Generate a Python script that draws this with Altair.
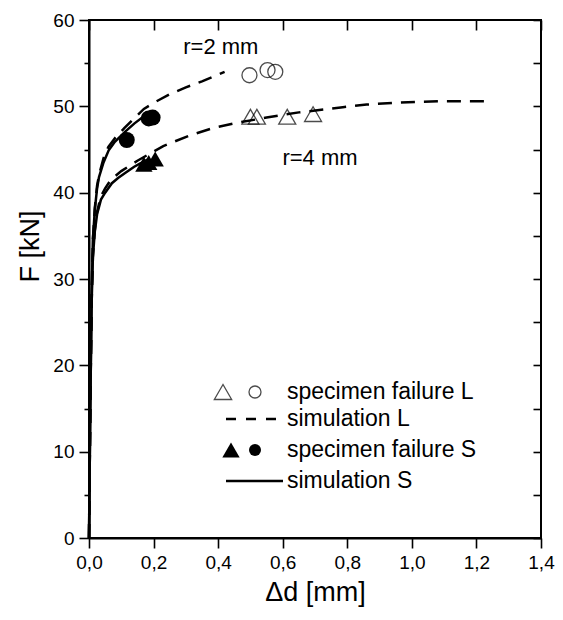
import altair as alt
import pandas as pd

# ---------------- data ----------------
# simulation curves (d in mm, F in kN)
r2L_d = [0, 0.004, 0.008, 0.012, 0.018, 0.025, 0.032, 0.045, 0.06, 0.08, 0.11, 0.14, 0.17, 0.2, 0.25, 0.3, 0.35, 0.42]
r2L_F = [0, 15, 28, 34.5, 38.2, 40.8, 42.2, 44.0, 45.3, 46.3, 47.5, 48.6, 49.7, 50.4, 51.4, 52.2, 52.9, 54.0]

r2S_d = [0, 0.004, 0.008, 0.012, 0.018, 0.025, 0.031, 0.045, 0.061, 0.08, 0.113, 0.14, 0.175, 0.195]
r2S_F = [0, 15, 28, 34.5, 38.0, 40.5, 41.8, 43.5, 44.9, 45.9, 47.1, 48.0, 49.0, 49.4]

r4L_d = [0, 0.004, 0.008, 0.012, 0.018, 0.025, 0.037, 0.05, 0.068, 0.1, 0.15, 0.23, 0.31, 0.385, 0.46, 0.55,
         0.65, 0.786, 0.86, 0.94, 1.01, 1.09, 1.16, 1.25]
r4L_F = [0, 15, 27, 32.5, 35.7, 37.8, 39.6, 40.5, 41.5, 42.5, 43.7, 45.4, 46.6, 47.5, 48.1, 48.7,
         49.3, 49.9, 50.2, 50.4, 50.5, 50.6, 50.6, 50.6]

r4S_d = [0, 0.004, 0.008, 0.012, 0.018, 0.025, 0.037, 0.05, 0.071, 0.09, 0.113, 0.14, 0.159, 0.185]
r4S_F = [0, 15, 27, 32.5, 35.5, 37.5, 39.2, 40.0, 41.1, 41.7, 42.3, 43.0, 43.4, 43.9]

# specimen failures
openTri_d = [0.50, 0.52, 0.614, 0.694]
openTri_F = [48.8, 48.8, 48.8, 49.1]
openCirc_d = [0.497, 0.553, 0.577]
openCirc_F = [53.6, 54.2, 54.0]
fillCirc_d = [0.117, 0.185, 0.197]
fillCirc_F = [46.1, 48.6, 48.7]
fillTri_d = [0.170, 0.185, 0.205]
fillTri_F = [43.3, 43.5, 43.9]

# annotations
ann_text = ["r=2 mm", "r=4 mm"]
ann_d = [0.292, 0.599]
ann_F = [56.9, 44.0]

# axes
x_major = [0.0, 0.2, 0.4, 0.6, 0.8, 1.0, 1.2, 1.4]
y_major = [0, 10, 20, 30, 40, 50, 60]
y_minor = [5, 15, 25, 35, 45, 55]
y_all = [0, 5, 10, 15, 20, 25, 30, 35, 40, 45, 50, 55, 60]

legend_labels = ["specimen failure L", "simulation L", "specimen failure S", "simulation S"]

# ---------------- build tables ----------------
def curve_df(name, ds, Fs):
    return pd.DataFrame({"curve": name, "d": ds, "F": Fs})

dashed = pd.concat([curve_df("r2L", r2L_d, r2L_F), curve_df("r4L", r4L_d, r4L_F)])
solid = pd.concat([curve_df("r2S", r2S_d, r2S_F), curve_df("r4S", r4S_d, r4S_F)])
oT = pd.DataFrame({"d": openTri_d, "F": openTri_F})
oC = pd.DataFrame({"d": openCirc_d, "F": openCirc_F})
fC = pd.DataFrame({"d": fillCirc_d, "F": fillCirc_F})
fT = pd.DataFrame({"d": fillTri_d, "F": fillTri_F})
ann = pd.DataFrame({"d": ann_d, "F": ann_F, "t": ann_text})
one = pd.DataFrame({"k": [0]})

W, H = 452, 518
FONT = "Liberation Sans"
xs = alt.Scale(domain=[0, 1.4], nice=False, zero=False)
ys = alt.Scale(domain=[0, 60], nice=False)
lblx = "replace(format(datum.value, '.1f'), '.', ',')"

X_none = alt.X("d:Q", scale=xs, axis=None)
Y_none = alt.Y("F:Q", scale=ys, axis=None)

# curves (carry bottom & left main axes)
dashed_layer = alt.Chart(dashed).mark_line(color="black", strokeWidth=2.5, strokeDash=[14, 9]).encode(
    x=alt.X("d:Q", scale=xs, axis=alt.Axis(orient="bottom", values=x_major, labelExpr=lblx,
                                            title="Δd [mm]", tickSize=10, labelPadding=5, labelFlush=False,
                                            labelFontSize=19, titleFontSize=27, titleFontWeight="normal",
                                            titleX=W / 2, titleY=54, titleBaseline="middle")),
    y=alt.Y("F:Q", scale=ys, axis=alt.Axis(orient="left", values=y_major, format="d",
                                            title="F [kN]", tickSize=10, labelPadding=5, labelFlush=False,
                                            labelFontSize=19, titleFontSize=27, titleFontWeight="normal",
                                            titleX=-59, titleY=226, titleBaseline="middle")),
    detail="curve:N",
)
solid_layer = alt.Chart(solid).mark_line(color="black", strokeWidth=2.5).encode(
    x=X_none, y=Y_none, detail="curve:N")

# markers (carry top & right inward axes)
oT_layer = alt.Chart(oT).mark_point(shape="triangle-up", filled=False, color="black", size=290, strokeWidth=1.3).encode(
    x=alt.X("d:Q", scale=xs, axis=alt.Axis(orient="top", values=x_major, labels=False, domain=False,
                                            tickSize=10, offset=-10, title=None)),
    y=alt.Y("F:Q", scale=ys, axis=alt.Axis(orient="right", values=y_all, labels=False, domain=False,
                                            tickSize=8, offset=-8, title=None)),
)
oC_layer = alt.Chart(oC).mark_point(shape="circle", filled=False, color="black", size=225, strokeWidth=1.3).encode(
    x=X_none,
    y=alt.Y("F:Q", scale=ys, axis=alt.Axis(orient="left", values=y_minor, labels=False, domain=False,
                                            tickSize=5, title=None)),
)
fC_layer = alt.Chart(fC).mark_point(shape="circle", filled=True, color="black", size=256, opacity=1).encode(
    x=X_none, y=Y_none)
fT_layer = alt.Chart(fT).mark_point(shape="triangle-up", filled=True, color="black", size=300, opacity=1).encode(
    x=X_none, y=Y_none)

ann_layer = alt.Chart(ann).mark_text(align="left", baseline="middle", font=FONT, fontSize=22, color="black").encode(
    x=X_none, y=Y_none, text="t:N")

# legend (pixel placement inside the plot)
leg_rows_y = [372, 399, 430, 461]
leg_text_x = 198
legend = []
for lab, yy in zip(legend_labels, leg_rows_y):
    legend.append(alt.Chart(one).mark_text(align="left", baseline="middle", font=FONT, fontSize=23,
                                           color="black").encode(
        x=alt.value(leg_text_x), y=alt.value(yy), text=alt.value(lab)))
legend.append(alt.Chart(one).mark_point(shape="triangle-up", filled=False, color="black", size=300,
                                        strokeWidth=1.3).encode(x=alt.value(134), y=alt.value(leg_rows_y[0])))
legend.append(alt.Chart(one).mark_point(shape="circle", filled=False, color="black", size=144,
                                        strokeWidth=1.3).encode(x=alt.value(166), y=alt.value(leg_rows_y[0])))
legend.append(alt.Chart(one).mark_point(shape="triangle-up", filled=True, color="black", size=300,
                                        opacity=1).encode(x=alt.value(142), y=alt.value(leg_rows_y[2])))
legend.append(alt.Chart(one).mark_point(shape="circle", filled=True, color="black", size=144,
                                        opacity=1).encode(x=alt.value(166), y=alt.value(leg_rows_y[2])))
legend.append(alt.Chart(one).mark_rule(color="black", strokeWidth=2.5, strokeDash=[10, 10]).encode(
    x=alt.value(137), x2=alt.value(196), y=alt.value(leg_rows_y[1])))
legend.append(alt.Chart(one).mark_rule(color="black", strokeWidth=2.5).encode(
    x=alt.value(137), x2=alt.value(194), y=alt.value(leg_rows_y[3])))

chart = alt.layer(
    dashed_layer, solid_layer, oT_layer, oC_layer, fC_layer, fT_layer, ann_layer, *legend
).resolve_axis(x="independent", y="independent").properties(
    width=W, height=H,
    autosize=alt.AutoSizeParams(type="none"),
    padding={"left": 81, "top": 12, "right": 14, "bottom": 74},
).configure_axis(
    grid=False, domainColor="black", domainWidth=2, tickColor="black", tickWidth=1.6,
    labelColor="black", titleColor="black", labelFont=FONT, titleFont=FONT,
).configure_view(stroke="black", strokeWidth=2)

chart.save("out.html", embed_options={"renderer": "svg", "actions": False})
